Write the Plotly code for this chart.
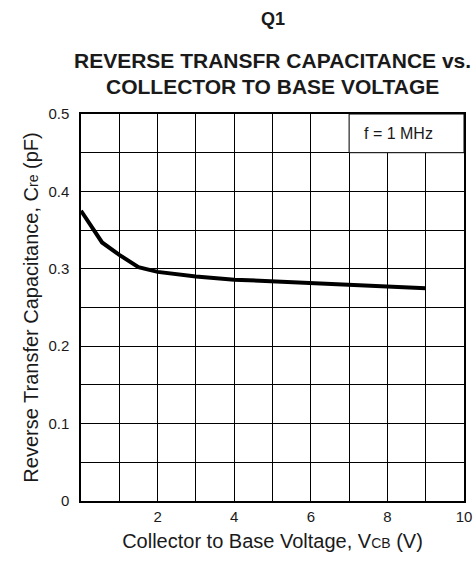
import plotly.graph_objects as go

vcb = [0.0, 0.55, 1.0, 1.5, 2.0, 3.0, 4.0, 5.0, 6.0, 7.0, 8.0, 9.0]
cre = [0.375, 0.334, 0.318, 0.302, 0.296, 0.290, 0.286, 0.284, 0.281, 0.279, 0.277, 0.275]
x_ticks = [2, 4, 6, 8, 10]
y_ticks = [0, 0.1, 0.2, 0.3, 0.4, 0.5]
y_tick_text = ["0", "0.1", "0.2", "0.3", "0.4", "0.5"]

FONT = "Liberation Sans, Arial, sans-serif"
TXT = "#1a1a1a"

fig = go.Figure()
fig.add_trace(go.Scatter(x=vcb, y=cre, mode="lines",
                         line=dict(color="black", width=4),
                         hoverinfo="skip", showlegend=False))

fig.update_layout(
    width=475, height=562,
    margin=dict(l=81, r=11, t=114, b=61),
    paper_bgcolor="white", plot_bgcolor="white",
    font=dict(family=FONT, color=TXT),
    xaxis=dict(range=[0, 10], tickvals=x_ticks, ticktext=[str(v) for v in x_ticks],
               showgrid=True, gridcolor="black", gridwidth=1,
               minor=dict(dtick=1, tick0=0, showgrid=True, gridcolor="black", gridwidth=1),
               showline=True, linecolor="black", linewidth=1.5, mirror=True,
               zeroline=False, ticks="", tickfont=dict(size=15, color=TXT),
               ticklabelstandoff=1, automargin=False,
               title=dict(text="Collector to Base Voltage, V<span style='font-size:14px'>CB</span> (V)",
                          font=dict(size=20, color=TXT), standoff=10)),
    yaxis=dict(range=[0, 0.5], tickvals=y_ticks, ticktext=y_tick_text,
               showgrid=True, gridcolor="black", gridwidth=1,
               minor=dict(dtick=0.05, tick0=0, showgrid=True, gridcolor="black", gridwidth=1),
               showline=True, linecolor="black", linewidth=1.5, mirror=True,
               zeroline=False, ticks="", tickfont=dict(size=15, color=TXT),
               ticklabelstandoff=7, automargin=False,
               title=dict(text="Reverse Transfer Capacitance, C<span style='font-size:14px'>re</span> (pF)",
                          font=dict(size=20, color=TXT), standoff=4)),
    shapes=[dict(type="rect", xref="x", yref="y", x0=7, x1=10, y0=0.45, y1=0.5,
                 fillcolor="white", line=dict(color="black", width=1), layer="above")],
    annotations=[
        dict(text="f = 1 MHz", xref="x", yref="y", x=8.3, y=0.475, showarrow=False,
             font=dict(size=16, color=TXT)),
        dict(text="<b>Q1</b>", xref="paper", yref="paper", x=0.5, y=1, yshift=95,
             yanchor="middle", showarrow=False, font=dict(size=18, color=TXT)),
        dict(text="<b>REVERSE TRANSFR CAPACITANCE vs.</b>", xref="paper", yref="paper",
             x=0.5, y=1, yshift=54, yanchor="middle", showarrow=False,
             font=dict(size=21, color=TXT)),
        dict(text="<b>COLLECTOR TO BASE VOLTAGE</b>", xref="paper", yref="paper",
             x=0.5, y=1, yshift=28, yanchor="middle", showarrow=False,
             font=dict(size=21, color=TXT)),
    ],
)

post = ("document.body.style.margin='0';"
        "document.body.style.overflow='hidden';"
        "document.documentElement.style.overflow='hidden';")
fig.write_html("out.html", post_script=post, config={"displayModeBar": False})
